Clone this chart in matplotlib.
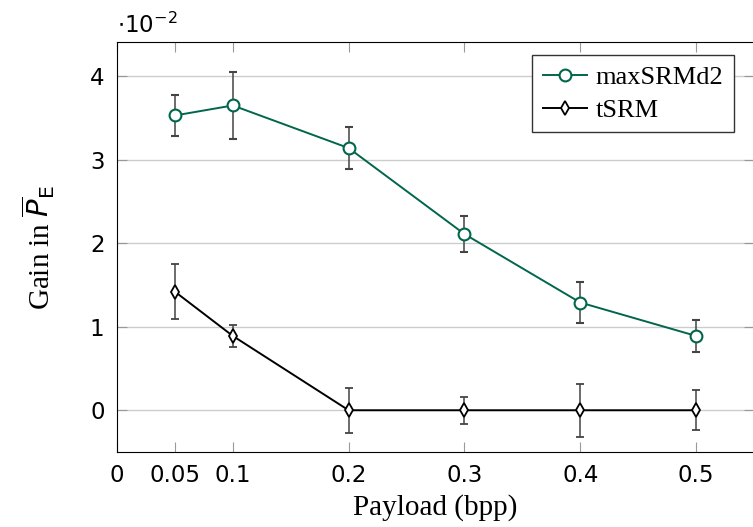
import matplotlib.pyplot as plt
from matplotlib.lines import Line2D

# Payload (bpp) and gains in units of 1e-2
payload = [0.05, 0.1, 0.2, 0.3, 0.4, 0.5]
x_ticks = [0, 0.05, 0.1, 0.2, 0.3, 0.4, 0.5]
x_tick_labels = ["0", "0.05", "0.1", "0.2", "0.3", "0.4", "0.5"]
y_ticks = [0, 1, 2, 3, 4]

max_srm = [3.53, 3.65, 3.14, 2.11, 1.29, 0.89]
max_srm_err = [0.25, 0.40, 0.25, 0.22, 0.25, 0.19]
tsrm = [1.42, 0.89, 0.0, 0.0, 0.0, 0.0]
tsrm_err = [0.33, 0.13, 0.27, 0.16, 0.32, 0.24]

green = "#00664c"
serif = ["Liberation Serif", "DejaVu Serif"]

fig = plt.figure(figsize=(7.53, 5.27), dpi=100)
ax = fig.add_axes([117 / 753, 75 / 527, 637 / 753, 410 / 527])

style_a = dict(color=green, marker="o", markersize=8.5, markerfacecolor="white",
               markeredgewidth=1.5, linewidth=1.4)
style_b = dict(color="black", marker="d", markersize=7, markerfacecolor="white",
               markeredgewidth=1.3, linewidth=1.4)
err = dict(ecolor="#444444", elinewidth=1.1, capsize=3, capthick=1.1, zorder=3)

ax.errorbar(payload, max_srm, yerr=max_srm_err, **style_a, **err)
ax.errorbar(payload, tsrm, yerr=tsrm_err, **style_b, **err)

ax.set_xlim(0, 0.55)
ax.set_ylim(-0.5, 4.41)
ax.set_xticks(x_ticks)
ax.set_xticklabels(x_tick_labels)
ax.set_yticks(y_ticks)
ax.tick_params(direction="in", length=7, width=0.8, color="#999999",
               top=True, right=True, labelsize=16.5, pad=9)
ax.grid(axis="y", color="#cccccc", linewidth=1)
ax.set_axisbelow(True)

ax.set_xlabel("Payload (bpp)", fontsize=21, family=serif, labelpad=5)
ax.set_ylabel(r"Gain in $\overline{P}_\mathrm{E}$", fontsize=21, family=serif, labelpad=24)
fig.text(117 / 753, 1 - 25 / 527, r"$\cdot10^{-2}$", fontsize=16.5, va="center", ha="left")

handles = [Line2D([], [], **style_a), Line2D([], [], **style_b)]
leg = ax.legend(handles, ["maxSRMd2", "tSRM"], loc="upper right", bbox_to_anchor=(0.968, 0.968),
                prop={"family": serif, "size": 19}, fancybox=False, edgecolor="#333333",
                framealpha=1, handlelength=1.7, handletextpad=0.3, borderpad=0.4,
                labelspacing=0.35, borderaxespad=0)
leg.get_frame().set_linewidth(1)

fig.savefig("out.png", dpi=100)
